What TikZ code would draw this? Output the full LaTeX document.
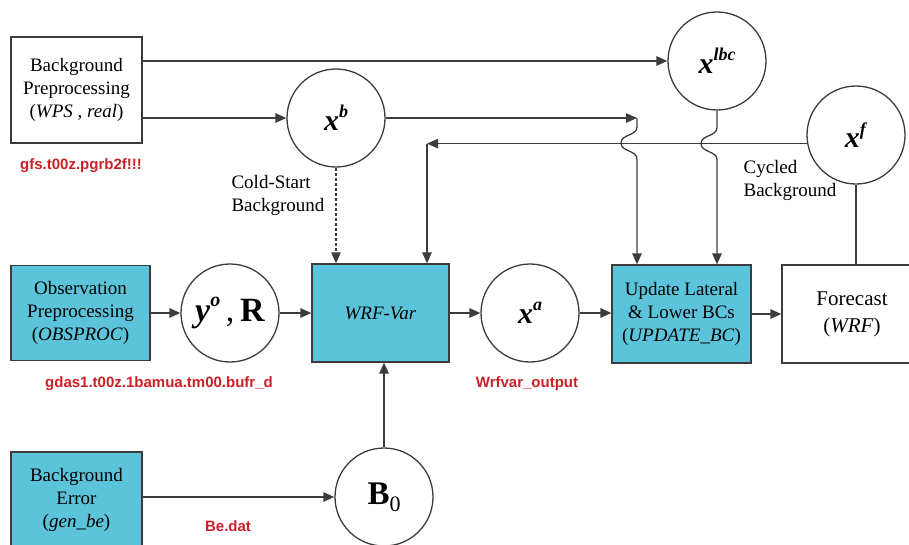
\documentclass[tikz,border=0pt]{standalone}
\usepackage{fontspec}
\setmainfont{Liberation Serif}
\newfontfamily\redfont{Liberation Sans}
\usepackage{xcolor}
\usetikzlibrary{positioning,arrows.meta}
\definecolor{boxcyan}{RGB}{92,196,218}
\definecolor{fileRed}{RGB}{204,32,39}
\definecolor{lineGray}{RGB}{60,60,60}
\newcommand{\vsup}[2]{\textbf{\textit{#1}}\raisebox{.42em}{\fontsize{18}{18}\selectfont\textbf{\textit{#2}}}}

\begin{document}
\begin{tikzpicture}[x=1pt,y=1pt,
  every node/.style={inner sep=0pt},
  font=\fontsize{19}{23}\selectfont,
  proc/.style={draw=lineGray,line width=1.3pt,align=center},
  wet/.style={proc,fill=boxcyan},
  var/.style={circle,draw=lineGray,line width=1.3pt,minimum size=98pt,font=\fontsize{30}{30}\selectfont},
  link/.style={draw=lineGray,line width=1.3pt},
  arr/.style={link,-{Triangle[length=11pt,width=9.5pt]}},
  file/.style={text=fileRed,font=\redfont\bfseries\fontsize{15}{18}\selectfont}]
\useasboundingbox (0,0) rectangle (909,-544);
% boxes
\node [proc,minimum width=131,minimum height=106] (bgpre) at (76.5,-90) {Background\\Preprocessing\\(\textit{WPS} , \textit{real})};
\node [wet,minimum width=139,minimum height=95] (obs) at (80.5,-313) {Observation\\Preprocessing\\(\textit{OBSPROC})};
\node [wet,minimum width=131,minimum height=96] (bgerr) at (76.5,-500) {Background\\Error\\(\textit{gen\_be})};
\node [wet,minimum width=137,minimum height=98] (wrf) at (380.5,-313) {\textit{WRF-Var}};
\node [wet,minimum width=139,minimum height=98] (upd) at (681.5,-314) {Update Lateral\\\& Lower BCs\\(\textit{UPDATE\_BC})};
\node [proc,minimum width=140,minimum height=98,font=\fontsize{21}{27}\selectfont] (fc) at (852,-314) {Forecast\\(\textit{WRF})};
% state circles
\node [var] (xb) at (336,-118) {\vsup{x}{b}};
\node [var] (xlbc) at (717,-61) {\vsup{x}{lbc}};
\node [var] (xf) at (856,-135) {\vsup{x}{f}};
\node [var] (xa) at (530,-313) {\vsup{x}{a}};
\node [var,font=\fontsize{34}{34}\selectfont] (yor) at (230,-313) {\textbf{\textit{y}}\raisebox{.42em}{\fontsize{20}{20}\selectfont\textbf{\textit{o}}}\,,\,\textbf{R}};
\node [var,font=\fontsize{33}{33}\selectfont] (b0) at (384,-497) {\textbf{B}\raisebox{-.22em}{\fontsize{22}{22}\selectfont 0}};
% labels
\node [file] (gfs) at (81,-166) {gfs.t00z.pgrb2f!!!};
\node [file] (gdas) at (159,-384) {gdas1.t00z.1bamua.tm00.bufr\_d};
\node [file] (wout) at (527,-384) {Wrfvar\_output};
\node [file] (bedat) at (228,-526) {Be.dat};
\node [align=left] (cold) at (278,-195) {Cold-Start\\Background};
\node [align=left] (cycled) at (790,-180) {Cycled\\Background};
% connectors
\coordinate (bend) at (637,-118);
\coordinate (cyc) at (427,-143);
\draw [arr] (bgpre.east |- xlbc.west) -- (xlbc.west);
\draw [arr] (bgpre.east |- xb.west) -- (xb.west);
\draw [arr] (xb.east) -- (bend);
\draw [arr] (bend) -- ++(0,-9) to[out=-90,in=90] ++(-16,-16) to[out=-90,in=90] ++(16,-16) -- (bend |- upd.north);
\draw [arr] (xlbc.south) -- ++(0,-17) to[out=-90,in=90] ++(-16,-16) to[out=-90,in=90] ++(16,-16) -- (xlbc.south |- upd.north);
\draw [arr] (xf.190) -- (cyc |- xf.190);
\draw [arr] (cyc |- xf.190) -- (cyc |- wrf.north);
\draw [link] (xf.south) -- (xf.south |- fc.north);
\draw [arr,dash pattern=on 3pt off 2pt] (xb.south) -- (xb.south |- wrf.north);
\draw [arr] (obs.east |- yor.west) -- (yor.west);
\draw [arr] (yor.east) -- (wrf.west |- yor.east);
\draw [arr] (wrf.east |- xa.west) -- (xa.west);
\draw [arr] (xa.east) -- (upd.west |- xa.east);
\draw [arr] (upd.east) -- (fc.west);
\draw [arr] (bgerr.east |- b0.west) -- (b0.west);
\draw [arr] (b0.north) -- (b0.north |- wrf.south);
\end{tikzpicture}
\end{document}
